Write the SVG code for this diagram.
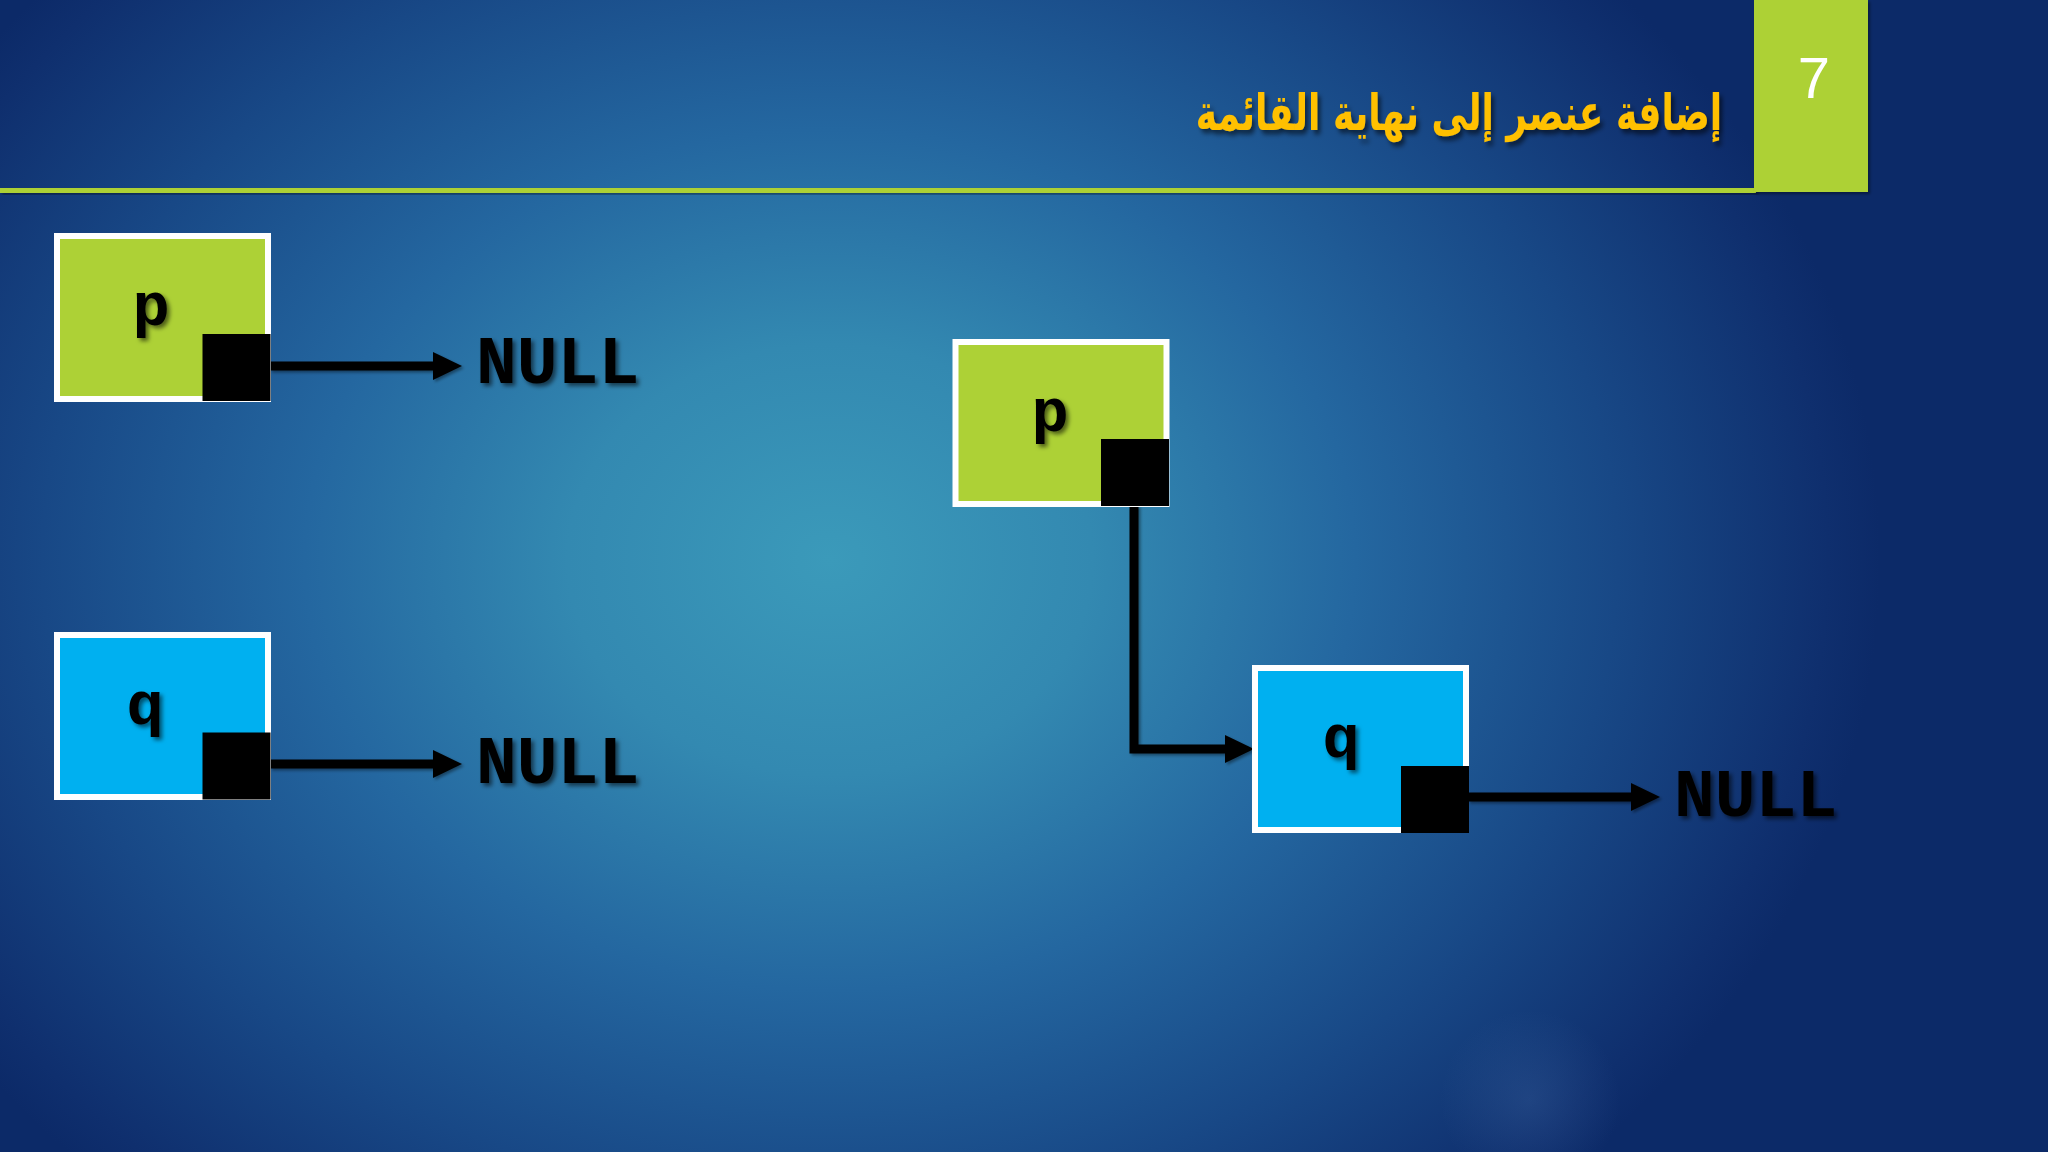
<svg xmlns="http://www.w3.org/2000/svg" width="2048" height="1152" viewBox="0 0 2048 1152">
  <defs>
    <radialGradient id="bg" cx="830" cy="560" r="1050" gradientUnits="userSpaceOnUse" gradientTransform="translate(830 560) scale(1 0.82) translate(-830 -560)">
      <stop offset="0" stop-color="#3b9aba"/>
      <stop offset="0.25" stop-color="#3389b1"/>
      <stop offset="0.5" stop-color="#2467a0"/>
      <stop offset="0.75" stop-color="#184886"/>
      <stop offset="0.95" stop-color="#0f2f6e"/>
      <stop offset="1" stop-color="#0c2a68"/>
    </radialGradient>
    <radialGradient id="spot" cx="1530" cy="1100" r="90" gradientUnits="userSpaceOnUse">
      <stop offset="0" stop-color="#5a86c0" stop-opacity="0.2"/>
      <stop offset="1" stop-color="#5a86c0" stop-opacity="0"/>
    </radialGradient>
    <filter id="sh" x="-10%" y="-20%" width="130%" height="150%">
      <feDropShadow dx="3" dy="3" stdDeviation="2" flood-color="#000" flood-opacity="0.55"/>
    </filter>
    <filter id="shs" x="-10%" y="-20%" width="130%" height="150%">
      <feDropShadow dx="2" dy="2" stdDeviation="1.5" flood-color="#000" flood-opacity="0.4"/>
    </filter>
    <marker id="ah" markerUnits="userSpaceOnUse" markerWidth="30" markerHeight="30" refX="1" refY="14" orient="auto">
      <path d="M0,0 L29,14 L0,28 Z" fill="#000"/>
    </marker>
    <style>
      .box { stroke: #ffffff; stroke-width: 6; }
      .green { fill: #add136; }
      .blue { fill: #00b0f0; }
      .ptr { fill: #000000; }
      .lbl { font-family: "Courier New", "Liberation Mono", monospace; font-weight: bold; font-size: 62px; fill: #000; text-anchor: middle; }
      .null { font-family: "Courier New", "Liberation Mono", monospace; font-weight: bold; font-size: 68px; fill: #000; }
      .conn { fill: none; stroke: #000; stroke-width: 9; stroke-linejoin: miter; marker-end: url(#ah); }
      .title { font-family: "DejaVu Sans", "Noto Sans", sans-serif; font-weight: bold; font-size: 36px; fill: #ffc000; text-anchor: end; }
      .num { font-family: "Liberation Sans", Arial, sans-serif; font-size: 58px; fill: #ffffff; text-anchor: middle; }
    </style>
  </defs>

  <rect x="0" y="0" width="2048" height="1152" fill="url(#bg)"/>
  <circle cx="1530" cy="1100" r="90" fill="url(#spot)"/>

  <g id="header">
    <rect x="0" y="188" width="1756" height="5" fill="#add136" filter="url(#shs)"/>
    <rect x="1754" y="0" width="114" height="192" fill="#add136" filter="url(#shs)"/>
    <text class="num" x="1814" y="98">7</text>
    <text class="title" transform="translate(1722 130) scale(1 1.4)" x="0" y="0" filter="url(#sh)">إضافة عنصر إلى نهاية القائمة</text>
  </g>

  <g id="connectors" filter="url(#shs)">
    <path class="conn" d="M270,366 H434"/>
    <path class="conn" d="M270,764 H434"/>
    <path class="conn" d="M1134,505 V749 H1226"/>
    <path class="conn" d="M1468,797 H1632"/>
  </g>

  <g id="node-p-left">
    <rect class="box green" x="57" y="236" width="211" height="163"/>
    <rect class="ptr" x="202.5" y="334" width="68" height="67"/>
    <text class="lbl" x="151" y="325" filter="url(#sh)">p</text>
  </g>

  <g id="node-q-left">
    <rect class="box blue" x="57" y="635" width="211" height="162"/>
    <rect class="ptr" x="202.5" y="732.5" width="68" height="67"/>
    <text class="lbl" x="145" y="724" filter="url(#sh)">q</text>
  </g>

  <g id="node-p-right">
    <rect class="box green" x="955.5" y="342" width="211" height="162"/>
    <rect class="ptr" x="1101" y="439" width="68" height="67"/>
    <text class="lbl" x="1050" y="431" filter="url(#sh)">p</text>
  </g>

  <g id="node-q-right">
    <rect class="box blue" x="1255" y="668" width="211" height="162"/>
    <rect class="ptr" x="1401" y="766" width="68" height="67"/>
    <text class="lbl" x="1341" y="757" filter="url(#sh)">q</text>
  </g>

  <g id="null-1"><text class="null" x="476" y="383" filter="url(#sh)">NULL</text></g>
  <g id="null-2"><text class="null" x="476" y="783" filter="url(#sh)">NULL</text></g>
  <g id="null-3"><text class="null" x="1674" y="816" filter="url(#sh)">NULL</text></g>
</svg>
